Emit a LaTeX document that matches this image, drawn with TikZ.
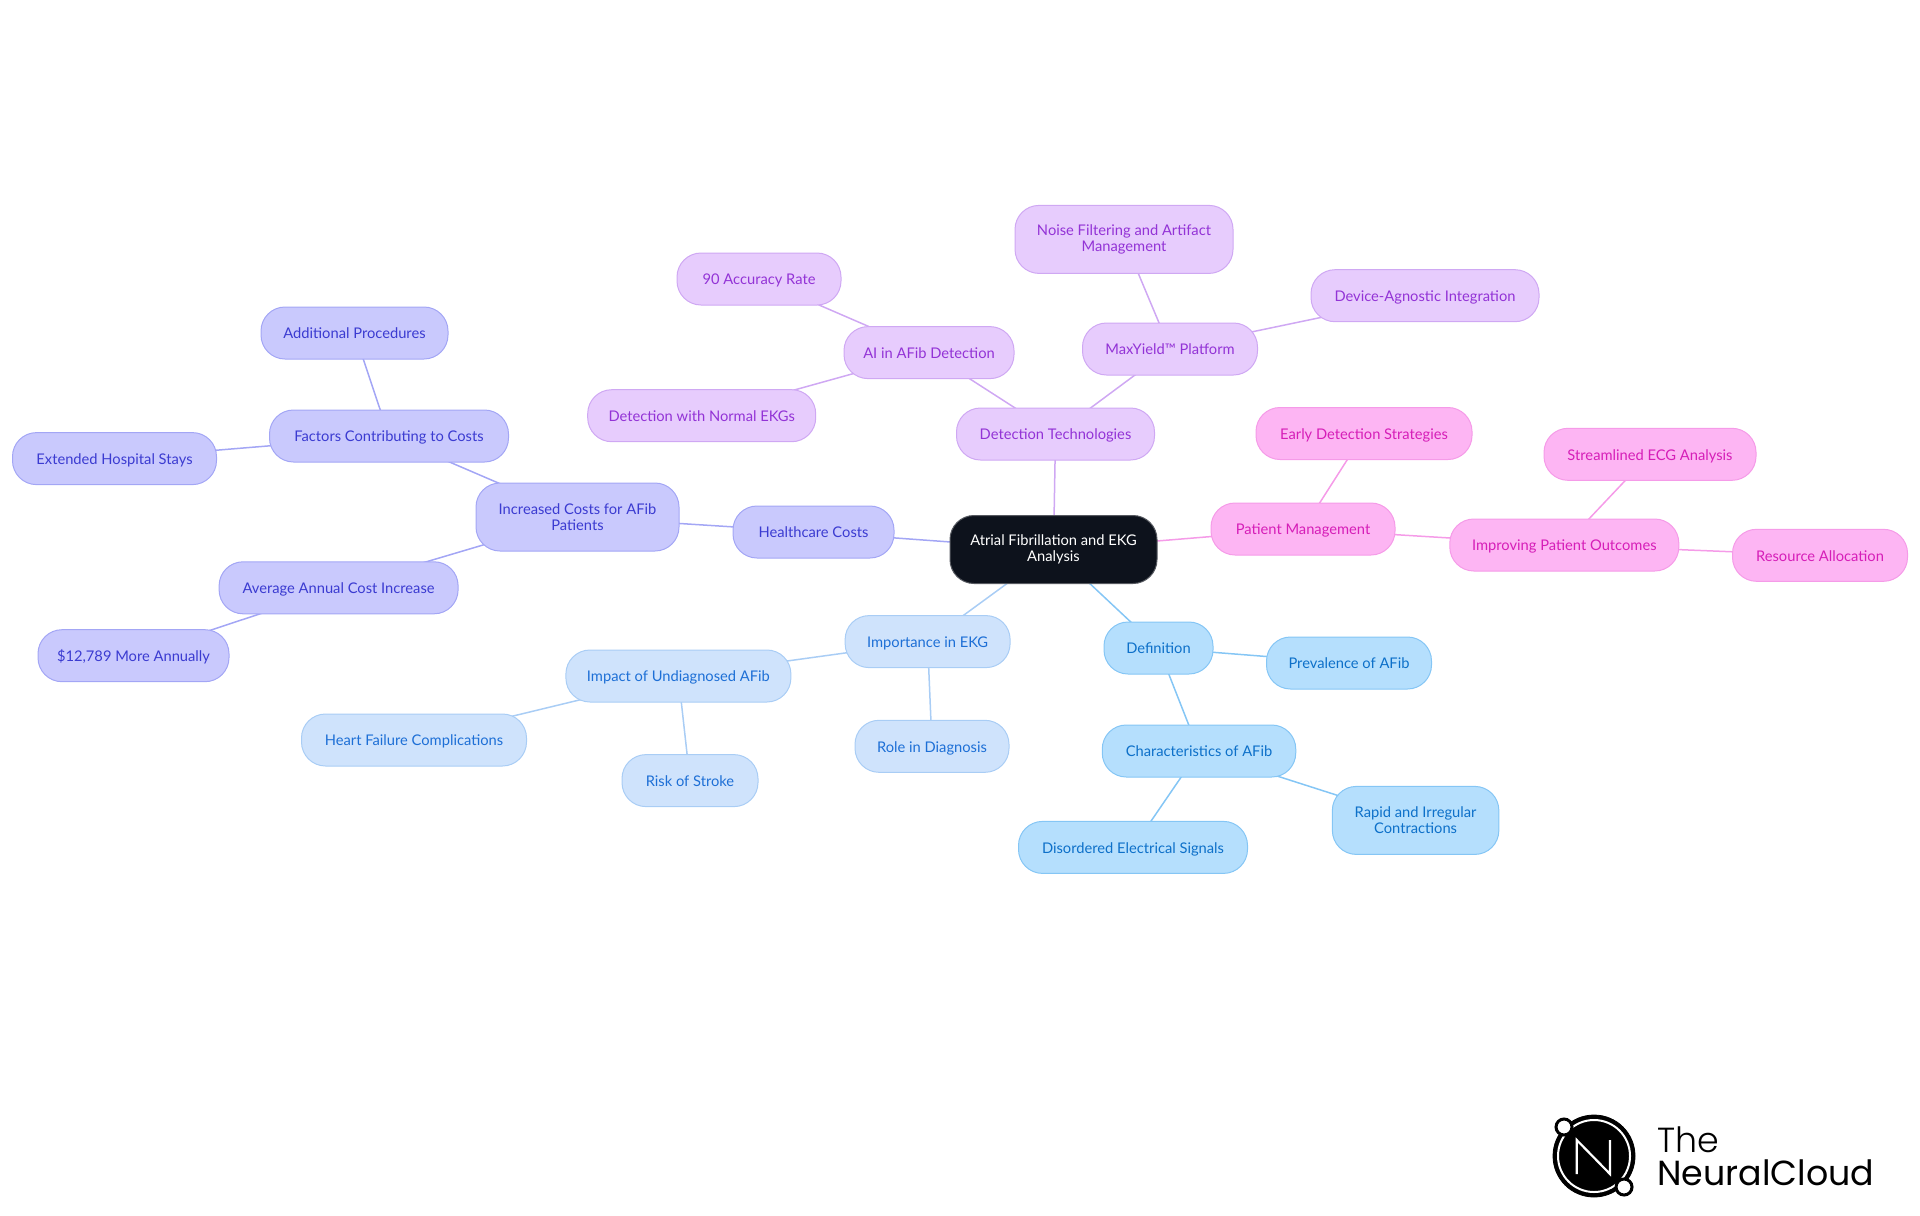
\documentclass[tikz,border=0pt]{standalone}
\usepackage{fontspec}
\setmainfont{Lato}
\newfontfamily\LogoFont[UprightFont=* Light]{Poppins}
\usetikzlibrary{backgrounds}

\definecolor{RootColor}{HTML}{0D121C}
\definecolor{CostsFill}{HTML}{C9C9FD}
\definecolor{CostsLine}{HTML}{A3A6F5}
\definecolor{CostsText}{HTML}{3B3BD1}
\definecolor{DetectFill}{HTML}{E7CCFD}
\definecolor{DetectLine}{HTML}{CFA8F3}
\definecolor{DetectText}{HTML}{9333D6}
\definecolor{PatientFill}{HTML}{FDB5F3}
\definecolor{PatientLine}{HTML}{F59BE8}
\definecolor{PatientText}{HTML}{D61EB8}
\definecolor{ImportFill}{HTML}{CFE3FC}
\definecolor{ImportLine}{HTML}{A9CDF5}
\definecolor{ImportText}{HTML}{1D6FD6}
\definecolor{DefineFill}{HTML}{B5DFFD}
\definecolor{DefineLine}{HTML}{85C6F5}
\definecolor{DefineText}{HTML}{0D70C9}

\tikzset{
	topic/.style={draw, line width=0.5pt, rounded corners=12pt, align=center, inner sep=0pt,
		minimum height=26pt, text height=7pt, text depth=1.1pt, font=\fontsize{7.35}{7.8}\selectfont},
	tall/.style={minimum height=34pt, text height=, text depth=},
	rootnode/.style={topic, tall, fill=RootColor, draw=RootColor!70!white, text=white},
	costsnode/.style={topic, fill=CostsFill, draw=CostsLine, text=CostsText},
	detectnode/.style={topic, fill=DetectFill, draw=DetectLine, text=DetectText},
	patientnode/.style={topic, fill=PatientFill, draw=PatientLine, text=PatientText},
	importnode/.style={topic, fill=ImportFill, draw=ImportLine, text=ImportText},
	definenode/.style={topic, fill=DefineFill, draw=DefineLine, text=DefineText},
	link/.style={line width=0.75pt}
}

\begin{document}
\begin{tikzpicture}[x=0.5pt, y=-0.5pt]

	\useasboundingbox (0,0) rectangle (1920,1215);

	% Root

	\node [rootnode, minimum width=103.5pt] (root) at (1053.5,549.5) {Atrial Fibrillation and EKG\\Analysis};

	% Healthcare costs

	\node [costsnode, minimum width=80.5pt] (healthcare) at (813.5,532) {Healthcare Costs};
	\node [costsnode, tall, minimum width=101.5pt] (increased) at (577.5,517) {Increased Costs for AFib\\Patients};
	\node [costsnode, minimum width=119.5pt] (factors) at (389,436) {Factors Contributing to Costs};
	\node [costsnode, minimum width=93.5pt] (additional) at (354.5,333) {Additional Procedures};
	\node [costsnode, minimum width=102pt] (extended) at (114.5,458.6) {Extended Hospital Stays};
	\node [costsnode, minimum width=119.5pt] (average) at (338.6,587.8) {Average Annual Cost Increase};
	\node [costsnode, minimum width=95.5pt] (annually) at (133.5,655.7) {\$12,789 More Annually};

	% Detection technologies

	\node [detectnode, minimum width=99pt] (detection) at (1055.5,434) {Detection Technologies};
	\node [detectnode, minimum width=85pt] (afibai) at (929,352.6) {AI in AFib Detection};
	\node [detectnode, minimum width=87.5pt] (maxyield) at (1170,349) {MaxYield™ Platform};
	\node [detectnode, minimum width=82pt] (accuracy) at (759,279) {90 Accuracy Rate};
	\node [detectnode, minimum width=114pt] (normal) at (701.7,415.7) {Detection with Normal EKGs};
	\node [detectnode, tall, minimum width=109pt] (noise) at (1124,239.4) {Noise Filtering and Artifact\\Management};
	\node [detectnode, minimum width=114pt] (device) at (1425,295.7) {Device-Agnostic Integration};

	% Patient management

	\node [patientnode, minimum width=92pt] (patient) at (1303,529) {Patient Management};
	\node [patientnode, minimum width=108pt] (early) at (1364,433.5) {Early Detection Strategies};
	\node [patientnode, minimum width=114.5pt] (improving) at (1564.3,545) {Improving Patient Outcomes};
	\node [patientnode, minimum width=106pt] (streamlined) at (1650,454.3) {Streamlined ECG Analysis};
	\node [patientnode, minimum width=87.5pt] (resource) at (1820,555.3) {Resource Allocation};

	% Importance in EKG

	\node [importnode, minimum width=82.5pt] (importance) at (927.6,641.6) {Importance in EKG};
	\node [importnode, minimum width=112.5pt] (impact) at (678.4,676) {Impact of Undiagnosed AFib};
	\node [importnode, minimum width=77pt] (role) at (932,746.3) {Role in Diagnosis};
	\node [importnode, minimum width=112.5pt] (heart) at (414,740) {Heart Failure Complications};
	\node [importnode, minimum width=68pt] (stroke) at (690,780.6) {Risk of Stroke};

	% Definition

	\node [definenode, minimum width=54.5pt] (definition) at (1158.5,648) {Definition};
	\node [definenode, minimum width=82.5pt] (prevalence) at (1349,663) {Prevalence of AFib};
	\node [definenode, minimum width=96.75pt] (characteristics) at (1199,751) {Characteristics of AFib};
	\node [definenode, minimum width=114.5pt] (disordered) at (1133,847.4) {Disordered Electrical Signals};
	\node [definenode, tall, minimum width=83.25pt] (rapid) at (1415.6,820.4) {Rapid and Irregular\\Contractions};

	% Links

	\begin{pgfonlayer}{background}
		\draw [link, CostsLine] (root.center) -- (healthcare.center);
		\draw [link, CostsLine] (healthcare.center) -- (increased.center);
		\draw [link, CostsLine] (increased.center) -- (factors.center);
		\draw [link, CostsLine] (factors.center) -- (additional.center);
		\draw [link, CostsLine] (factors.center) -- (extended.center);
		\draw [link, CostsLine] (increased.center) -- (average.center);
		\draw [link, CostsLine] (average.center) -- (annually.center);

		\draw [link, DetectLine] (root.center) -- (detection.center);
		\draw [link, DetectLine] (detection.center) -- (afibai.center);
		\draw [link, DetectLine] (detection.center) -- (maxyield.center);
		\draw [link, DetectLine] (afibai.center) -- (accuracy.center);
		\draw [link, DetectLine] (afibai.center) -- (normal.center);
		\draw [link, DetectLine] (maxyield.center) -- (noise.center);
		\draw [link, DetectLine] (maxyield.center) -- (device.center);

		\draw [link, PatientLine] (root.center) -- (patient.center);
		\draw [link, PatientLine] (patient.center) -- (early.center);
		\draw [link, PatientLine] (patient.center) -- (improving.center);
		\draw [link, PatientLine] (improving.center) -- (streamlined.center);
		\draw [link, PatientLine] (improving.center) -- (resource.center);

		\draw [link, ImportLine] (root.center) -- (importance.center);
		\draw [link, ImportLine] (importance.center) -- (impact.center);
		\draw [link, ImportLine] (importance.center) -- (role.center);
		\draw [link, ImportLine] (impact.center) -- (heart.center);
		\draw [link, ImportLine] (impact.center) -- (stroke.center);

		\draw [link, DefineLine] (root.center) -- (definition.center);
		\draw [link, DefineLine] (definition.center) -- (prevalence.center);
		\draw [link, DefineLine] (definition.center) -- (characteristics.center);
		\draw [link, DefineLine] (characteristics.center) -- (disordered.center);
		\draw [link, DefineLine] (characteristics.center) -- (rapid.center);
	\end{pgfonlayer}

	% Logo

	\filldraw [fill=black, draw=black] (1594,1156) circle (41);
	\draw [white, line width=1pt] (1594,1156) circle (36);
	\filldraw [fill=white, draw=black, line width=1.5pt] (1564,1127) circle (8);
	\filldraw [fill=white, draw=black, line width=1.5pt] (1624,1187) circle (8);
	\draw [white, line width=1.1pt] (1576.7,1174) -- (1576.7,1140) -- (1610,1174) -- (1610,1140);
	\node [anchor=base west, inner sep=0pt, font=\fontsize{17.4}{18}\LogoFont] (logothe) at (1657,1152.7) {The};
	\node [anchor=base west, inner sep=0pt, font=\fontsize{17.4}{18}\fontspec{Poppins}] (logoname) at (1657,1185) {NeuralCloud};

\end{tikzpicture}
\end{document}
